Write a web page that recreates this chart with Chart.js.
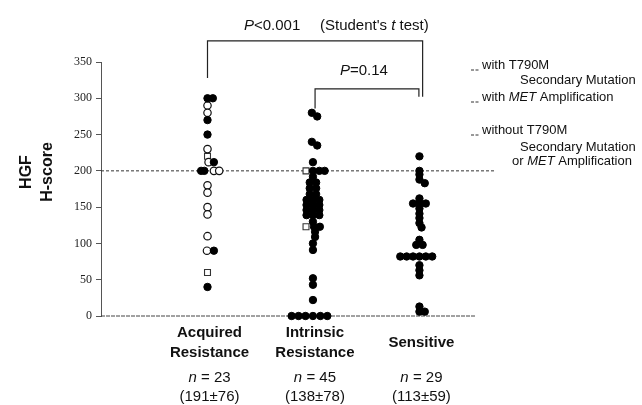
<!DOCTYPE html>
<html>
<head>
<meta charset="utf-8">
<script src="https://cdn.jsdelivr.net/npm/chart.js@4.4.0/dist/chart.umd.min.js"></script>
<style>
  html, body { margin: 0; padding: 0; background: #fff; }
  #wrap { width: 642px; height: 405px; }
</style>
</head>
<body>
<div id="wrap"><canvas id="hgfChart" width="642" height="405"></canvas></div>
<script>
// groups along the x axis
const groupNames = [["Acquired", "Resistance"], ["Intrinsic", "Resistance"], ["Sensitive"]];
const groupX = [1, 1.99, 2.99];
const groupN = ["23", "45", "29"];
const groupMeanSd = ["(191±76)", "(138±78)", "(113±59)"];
const yTickValues = [0, 50, 100, 150, 200, 250, 300, 350];
const cutoff = 200;

// f = filled circle, o = open circle, s = open square
const acquiredScores = [300, 300, 290, 280, 270, 250, 230, 220, 212, 212, 200, 200, 200, 200, 180, 170, 150, 140, 110, 90, 90, 60, 40];
const acquiredJitter = [0, 0.05, 0, 0, 0, 0, 0, 0, 0.01, 0.06, -0.06, -0.03, 0.06, 0.11, 0, 0, 0, 0, 0, -0.005, 0.06, 0, 0];
const acquiredKind = ["f", "f", "o", "o", "f", "f", "o", "s", "o", "f", "f", "f", "o", "o", "o", "o", "o", "o", "o", "o", "f", "s", "f"];

const intrinsicScores = [280, 275, 240, 235, 212, 200, 200, 200, 200, 192, 184, 184, 176, 176, 168, 168, 160, 160, 160, 153, 153, 153, 146, 146, 146, 139, 139, 139, 130, 123, 123, 123, 116, 109, 100, 91, 52, 43, 22, 0, 0, 0, 0, 0, 0];
const intrinsicJitter = [-0.01, 0.04, -0.01, 0.04, 0, -0.065, 0, 0.06, 0.11, 0, -0.03, 0.03, -0.03, 0.03, -0.03, 0.03, -0.06, 0, 0.06, -0.06, 0, 0.06, -0.06, 0, 0.06, -0.06, 0, 0.06, 0, -0.065, 0.01, 0.065, 0.02, 0.02, 0, 0, 0, 0, 0, -0.2, -0.135, -0.07, 0, 0.07, 0.135];
const intrinsicKind = ["f", "f", "f", "f", "f", "s", "f", "f", "f", "f", "f", "f", "f", "f", "f", "f", "f", "f", "f", "f", "f", "f", "f", "f", "f", "f", "f", "f", "f", "s", "f", "f", "f", "f", "f", "f", "f", "f", "f", "f", "f", "f", "f", "f", "f"];

const sensitiveScores = [220, 200, 195, 188, 183, 162, 155, 155, 155, 148, 141, 135, 128, 122, 105, 98, 98, 82, 82, 82, 82, 82, 82, 70, 63, 56, 13, 6, 6];
const sensitiveJitter = [0, 0, 0, 0, 0.05, 0, -0.06, 0, 0.06, 0, 0, 0, 0, 0.02, 0, -0.03, 0.03, -0.18, -0.12, -0.06, 0, 0.06, 0.12, 0, 0, 0, 0, 0, 0.05];
const sensitiveKind = new Array(sensitiveScores.length).fill("f");

const groups = [
  { scores: acquiredScores, jitter: acquiredJitter, kind: acquiredKind },
  { scores: intrinsicScores, jitter: intrinsicJitter, kind: intrinsicKind },
  { scores: sensitiveScores, jitter: sensitiveJitter, kind: sensitiveKind },
];

const pointsOf = (k) => {
  const out = [];
  groups.forEach((g, gi) => {
    g.scores.forEach((v, i) => {
      if (g.kind[i] === k) out.push({ x: groupX[gi] + g.jitter[i], y: v });
    });
  });
  return out;
};

// significance brackets (x in group units, y in score units)
const bracketAll = [{ x: 1, y: 328 }, { x: 1, y: 379 }, { x: 3.02, y: 379 }, { x: 3.02, y: 302 }];
const bracketIS = [{ x: 2.01, y: 286 }, { x: 2.01, y: 313 }, { x: 2.985, y: 313 }, { x: 2.985, y: 302 }];

const lineDs = (data, extra) => Object.assign({
  data: data, showLine: true, pointRadius: 0, borderColor: "#222", borderWidth: 1.2,
  clip: false, fill: false, tension: 0,
}, extra || {});

const SANS = '"Liberation Sans", Arial, sans-serif';

function drawRich(ctx, parts, x, y, size, align) {
  let w = 0;
  parts.forEach(p => {
    ctx.font = (p[1] ? "italic " : "") + size + "px " + SANS;
    w += ctx.measureText(p[0]).width;
  });
  let cx = align === "center" ? x - w / 2 : x;
  ctx.textAlign = "left";
  parts.forEach(p => {
    ctx.font = (p[1] ? "italic " : "") + size + "px " + SANS;
    ctx.fillText(p[0], cx, y);
    cx += ctx.measureText(p[0]).width;
  });
}

const textPlugin = {
  id: "texts",
  afterDraw(chart) {
    const ctx = chart.ctx;
    const xs = chart.scales.x;
    ctx.save();
    ctx.fillStyle = "#111";
    ctx.textBaseline = "middle";

    // group labels
    groupNames.forEach((lines, i) => {
      const px = xs.getPixelForValue(groupX[i]) + 2;
      ctx.font = "bold 15px " + SANS;
      ctx.textAlign = "center";
      if (lines.length === 2) {
        ctx.fillText(lines[0], px, 333);
        ctx.fillText(lines[1], px, 353);
      } else {
        ctx.fillText(lines[0], px, 343);
      }
      drawRich(ctx, [["n", true], [" = " + groupN[i], false]], px, 378, 15, "center");
      ctx.font = "15px " + SANS;
      ctx.textAlign = "center";
      ctx.fillText(groupMeanSd[i], px, 397);
    });

    // p values
    drawRich(ctx, [["P", true], ["<0.001", false]], 244, 26, 15, "left");
    drawRich(ctx, [["(Student's ", false], ["t", true], [" test)", false]], 320, 26, 15, "left");
    drawRich(ctx, [["P", true], ["=0.14", false]], 340, 71, 15, "left");

    // legend notes
    const lx = 482;
    const notes = [
      [[["with T790M", false]], lx, 65, true],
      [[["Secondary Mutation", false]], 520, 80, false],
      [[["with ", false], ["MET", true], [" Amplification", false]], lx, 97, true],
      [[["without T790M", false]], lx, 130, true],
      [[["Secondary Mutation", false]], 520, 147, false],
      [[["or ", false], ["MET", true], [" Amplification", false]], 512, 161, false],
    ];
    notes.forEach(n => {
      drawRich(ctx, n[0], n[1], n[2], 13, "left");
      if (n[3]) {
        ctx.strokeStyle = "#333";
        ctx.lineWidth = 1;
        ctx.beginPath();
        ctx.moveTo(471, n[2] + 5); ctx.lineTo(474, n[2] + 5);
        ctx.moveTo(475.5, n[2] + 5); ctx.lineTo(478.5, n[2] + 5);
        ctx.stroke();
      }
    });

    // y axis title
    ctx.translate(38, 172);
    ctx.rotate(-Math.PI / 2);
    ctx.textAlign = "center";
    ctx.font = "bold 16px " + SANS;
    ctx.fillText("HGF", 0, -11);
    ctx.fillText("H-score", 0, 10);
    ctx.restore();
  },
};

const ctx = document.getElementById("hgfChart").getContext("2d");
new Chart(ctx, {
  type: "scatter",
  data: {
    datasets: [
      { data: pointsOf("f"), pointStyle: "circle", pointRadius: 3.7, backgroundColor: "#000", borderColor: "#000", borderWidth: 1, clip: false },
      { data: pointsOf("o"), pointStyle: "circle", pointRadius: 3.7, backgroundColor: "#fff", borderColor: "#111", borderWidth: 1.2, clip: false },
      { data: pointsOf("s"), pointStyle: "rect", pointRadius: 4.2, backgroundColor: "#fff", borderColor: "#333", borderWidth: 1.1, clip: false },
      lineDs([{ x: 0, y: cutoff }, { x: 3.7, y: cutoff }], { borderDash: [3, 2], borderWidth: 1, borderColor: "#333" }),
      lineDs([{ x: 0, y: 0 }, { x: 3.52, y: 0 }], { borderDash: [4, 1], borderWidth: 1, borderColor: "#444" }),
      lineDs(bracketAll),
      lineDs(bracketIS),
    ],
  },
  options: {
    responsive: false,
    animation: false,
    devicePixelRatio: 1,
    layout: { padding: { top: 62, bottom: 89, left: 0, right: 115 } },
    plugins: { legend: { display: false }, tooltip: { enabled: false } },
    scales: {
      x: { type: "linear", min: 0, max: 4, display: false },
      y: {
        min: 0,
        max: 350,
        afterBuildTicks: (scale) => { scale.ticks = yTickValues.map(v => ({ value: v })); },
        afterFit: (scale) => { scale.width = 101; },
        ticks: { color: "#222", font: { family: '"Liberation Serif", "Times New Roman", serif', size: 12 }, padding: 4 },
        grid: { drawOnChartArea: false, tickLength: 5, color: "#555" },
        border: { display: true, color: "#555", width: 1 },
      },
    },
  },
  plugins: [textPlugin],
});
</script>
</body>
</html>
